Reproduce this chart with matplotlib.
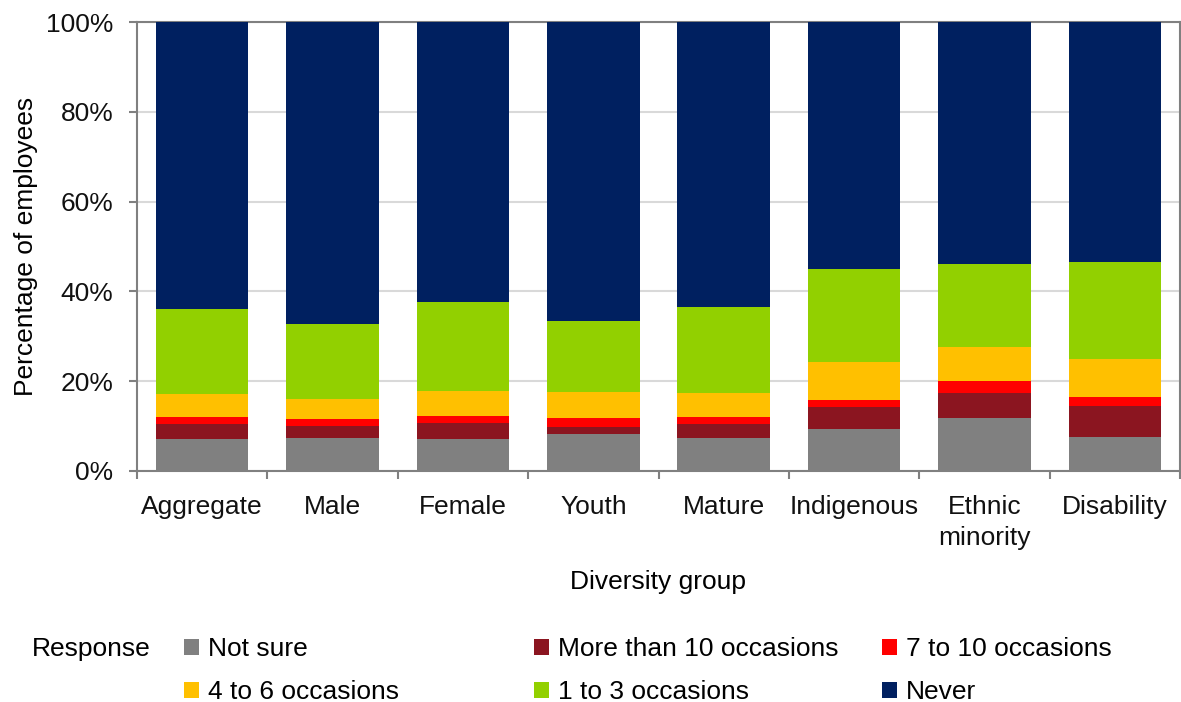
import numpy as np
import matplotlib
matplotlib.use("Agg")
import matplotlib.pyplot as plt
from matplotlib.ticker import PercentFormatter

plt.rcParams['font.family'] = ['Liberation Sans', 'DejaVu Sans']

groups = ["Aggregate", "Male", "Female", "Youth", "Mature", "Indigenous",
          "Ethnic\nminority", "Disability"]

# values in % of employees, bottom to top
not_sure = [7.2, 7.3, 7.2, 8.2, 7.3, 9.4, 11.9, 7.6]
more_10 = [3.2, 2.8, 3.4, 1.5, 3.1, 4.9, 5.4, 6.8]
occ_7_10 = [1.6, 1.5, 1.6, 2.2, 1.6, 1.6, 2.8, 2.0]
occ_4_6 = [5.2, 4.4, 5.7, 5.6, 5.4, 8.4, 7.6, 8.5]
occ_1_3 = [18.9, 16.7, 19.8, 16.0, 19.1, 20.6, 18.4, 21.6]
never = [63.9, 67.3, 62.3, 66.5, 63.5, 55.1, 53.9, 53.5]

series = [
    ("Not sure", not_sure, "#808080"),
    ("More than 10 occasions", more_10, "#8B1520"),
    ("7 to 10 occasions", occ_7_10, "#FF0000"),
    ("4 to 6 occasions", occ_4_6, "#FFC000"),
    ("1 to 3 occasions", occ_1_3, "#92D000"),
    ("Never", never, "#002060"),
]

FS = 19

fig = plt.figure(figsize=(11.81, 7.02), dpi=100)
ax = fig.add_axes([137 / 1181, 1 - 471 / 702, (1180 - 137) / 1181, (471 - 22) / 702])

x = np.arange(len(groups))
bottom = np.zeros(len(groups))
handles = {}
for name, vals, col in series:
    bars = ax.bar(x, vals, bottom=bottom, width=0.71, color=col, label=name, zorder=3)
    handles[name] = bars
    bottom += np.array(vals)

ax.set_xlim(-0.5, len(groups) - 0.5)
ax.set_ylim(0, 100)
ax.set_yticks(np.arange(0, 101, 20))
ax.yaxis.set_major_formatter(PercentFormatter(decimals=0))
ax.grid(axis='y', color='#d9d9d9', linewidth=1.5, zorder=0)

ax.set_xticks(np.arange(-0.5, len(groups), 1))
ax.set_xticklabels([])
ax.set_xticks(x, minor=True)
labels = ax.set_xticklabels(groups, minor=True, fontsize=FS, color='#111111')
for t in labels:
    t.set_linespacing(1.4)
ax.tick_params(axis='x', which='minor', length=0, pad=17)
ax.tick_params(axis='x', which='major', length=6, width=1.5, color='#808080', direction='out')
ax.tick_params(axis='y', length=6, width=1.5, color='#808080', labelsize=FS,
               labelcolor='#111111', pad=11)

for s in ax.spines.values():
    s.set_color('#808080')
    s.set_linewidth(1.5)

ax.set_xlabel("Diversity group", fontsize=FS, labelpad=14)
ax.set_ylabel("Percentage of employees", fontsize=FS, labelpad=6)

fig.text(32 / 1181, 1 - 649 / 702, "Response", fontsize=FS, va='center', ha='left')

cols = [
    (["Not sure", "4 to 6 occasions"], 184),
    (["More than 10 occasions", "1 to 3 occasions"], 534),
    (["7 to 10 occasions", "Never"], 882),
]
for names, xpix in cols:
    leg = fig.legend([handles[n] for n in names], names, loc='upper left',
                     bbox_to_anchor=(xpix / 1181, 1 - 637 / 702), frameon=False,
                     fontsize=FS, handlelength=0.55, handleheight=0.55,
                     handletextpad=0.35, labelspacing=0.72, borderaxespad=0,
                     borderpad=0)

fig.savefig("out.png", dpi=100)
